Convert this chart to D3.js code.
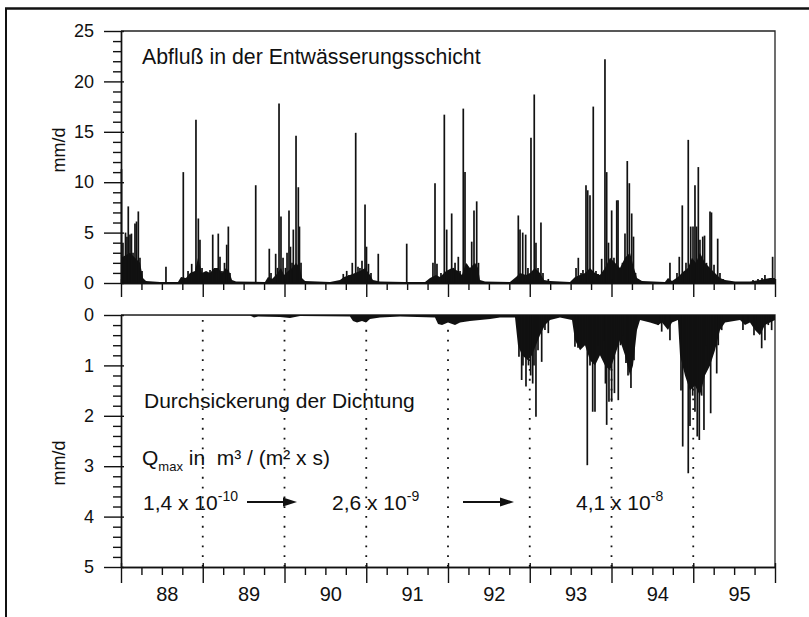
<!DOCTYPE html>
<html>
<head>
<meta charset="utf-8">
<script src="https://cdn.jsdelivr.net/npm/d3@7"></script>
<style>
  body { margin: 0; background: #fff; }
  svg text { font-family: "Liberation Sans", Arial, Helvetica, sans-serif; fill: #111; }
</style>
</head>
<body>
<svg id="chart" width="809" height="617"></svg>
<script>
// ---- data -------------------------------------------------------------
const years = [1988, 1989, 1990, 1991, 1992, 1993, 1994, 1995];
const yearLabels = ["88", "89", "90", "91", "92", "93", "94", "95"];
const runoffTicks = [0, 5, 10, 15, 20, 25];
const seepageTicks = [0, 1, 2, 3, 4, 5];
// years at which the sealing permeability was changed
const changeYears = [1989, 1990, 1991, 1992, 1993, 1994, 1995];

// runoff in the drainage layer: single daily peaks [decimal year, mm/d]
const runoffPeaks = [
  [1988.006, 11.3], [1988.024, 4.0], [1988.055, 5.0], [1988.073, 4.6], [1988.089, 7.6],
  [1988.110, 4.8], [1988.128, 4.9], [1988.147, 3.0], [1988.171, 5.9], [1988.190, 6.1],
  [1988.212, 7.1], [1988.232, 2.5], [1988.257, 1.2],
  [1988.550, 1.6], [1988.762, 11.0], [1988.820, 1.2], [1988.865, 1.9], [1988.893, 1.0],
  [1988.917, 16.2], [1988.946, 6.4], [1988.966, 4.3], [1988.991, 1.5],
  [1989.027, 1.1], [1989.052, 1.0], [1989.089, 1.3], [1989.122, 4.8], [1989.150, 1.5],
  [1989.190, 4.9], [1989.211, 2.6], [1989.235, 1.2], [1989.266, 2.0], [1989.293, 3.8],
  [1989.313, 5.6], [1989.333, 1.0],
  [1989.648, 9.7], [1989.814, 3.4], [1989.835, 1.0], [1989.892, 2.9], [1989.914, 1.5],
  [1989.933, 17.8], [1989.957, 6.6], [1989.982, 2.5],
  [1990.012, 1.5], [1990.031, 3.0], [1990.055, 7.2], [1990.073, 3.6], [1990.092, 2.0],
  [1990.108, 5.3], [1990.141, 14.6], [1990.169, 9.5], [1990.183, 5.6], [1990.202, 2.0],
  [1990.719, 0.9], [1990.761, 1.2], [1990.789, 0.8], [1990.829, 2.0], [1990.871, 14.9],
  [1990.899, 1.6], [1990.923, 1.5], [1990.948, 2.2], [1990.985, 7.8],
  [1991.003, 3.6], [1991.027, 1.9], [1991.058, 1.0], [1991.147, 2.9], [1991.495, 3.9],
  [1991.816, 2.0], [1991.841, 9.9], [1991.865, 1.9], [1991.914, 1.0], [1991.955, 16.7],
  [1991.984, 5.3],
  [1992.012, 1.2], [1992.045, 6.9], [1992.067, 1.5], [1992.086, 2.0], [1992.126, 2.6],
  [1992.147, 1.2], [1992.187, 17.3], [1992.208, 11.0], [1992.232, 1.8], [1992.257, 1.0],
  [1992.290, 4.1], [1992.318, 7.2], [1992.351, 8.1], [1992.373, 2.0],
  [1992.860, 6.7], [1992.881, 5.3], [1992.914, 5.0], [1992.950, 4.8], [1992.978, 1.5],
  [1993.015, 14.4], [1993.055, 18.7], [1993.076, 4.0], [1993.101, 1.5], [1993.137, 6.0],
  [1993.162, 1.0], [1993.227, 0.4],
  [1993.566, 1.5], [1993.594, 2.5], [1993.627, 1.0], [1993.651, 1.3], [1993.688, 9.7],
  [1993.709, 9.2], [1993.737, 8.7], [1993.777, 17.5], [1993.810, 1.2], [1993.835, 0.9],
  [1993.880, 2.4], [1993.920, 22.2], [1993.941, 11.0], [1993.963, 4.0],
  [1994.002, 7.2], [1994.030, 2.5], [1994.064, 8.2], [1994.080, 8.2], [1994.104, 1.5],
  [1994.134, 2.0], [1994.165, 4.9], [1994.193, 12.1], [1994.218, 9.9], [1994.247, 6.9],
  [1994.269, 4.6], [1994.294, 1.0],
  [1994.715, 2.0], [1994.801, 1.0], [1994.829, 2.6], [1994.866, 7.7], [1994.893, 1.2],
  [1994.911, 2.0], [1994.939, 14.2], [1994.969, 5.6], [1994.997, 5.6],
  [1995.021, 9.7], [1995.040, 5.6], [1995.062, 11.5], [1995.082, 4.3], [1995.116, 4.6],
  [1995.138, 4.7], [1995.162, 2.0], [1995.205, 7.1], [1995.223, 7.0], [1995.254, 1.8],
  [1995.299, 4.4], [1995.327, 1.0], [1995.364, 0.4],
  [1995.731, 0.3], [1995.792, 0.4], [1995.841, 0.5], [1995.877, 0.8], [1995.914, 0.3],
  [1995.971, 2.6]
];

// runoff: level of the dense day-to-day flow beneath the peaks [decimal year, mm/d]
const runoffBase = [
  [1988.000, 2.5], [1988.110, 3.0], [1988.232, 2.0], [1988.269, 0.5], [1988.306, 0.2],
  [1988.477, 0.1], [1988.697, 0.1], [1988.734, 0.6], [1988.795, 0.5], [1988.844, 1.0],
  [1988.905, 1.2], [1988.942, 2.5], [1988.991, 1.0], [1989.040, 1.2], [1989.089, 1.0],
  [1989.138, 1.5], [1989.187, 1.5], [1989.235, 1.0], [1989.284, 1.5], [1989.321, 1.2],
  [1989.358, 0.3], [1989.407, 0.15], [1989.761, 0.1], [1989.798, 0.6], [1989.847, 0.4],
  [1989.896, 0.8], [1989.957, 1.5], [1989.994, 0.8], [1990.043, 1.2], [1990.092, 1.5],
  [1990.141, 2.0], [1990.190, 1.5], [1990.214, 0.5], [1990.251, 0.2], [1990.557, 0.1],
  [1990.679, 0.3], [1990.728, 0.6], [1990.801, 0.8], [1990.862, 1.0], [1990.923, 1.2],
  [1990.985, 1.5], [1991.046, 0.8], [1991.082, 0.3], [1991.168, 0.15], [1991.474, 0.1],
  [1991.719, 0.1], [1991.780, 0.5], [1991.853, 0.8], [1991.902, 0.6], [1991.976, 1.2],
  [1992.049, 1.5], [1992.122, 1.2], [1992.171, 0.8], [1992.220, 2.0], [1992.269, 1.5],
  [1992.330, 2.0], [1992.367, 1.5], [1992.391, 0.3], [1992.453, 0.15], [1992.758, 0.1],
  [1992.832, 0.6], [1992.881, 1.0], [1992.954, 0.8], [1993.003, 1.0], [1993.064, 1.5],
  [1993.125, 1.0], [1993.174, 0.3], [1993.248, 0.2], [1993.492, 0.1], [1993.554, 0.6],
  [1993.615, 0.8], [1993.676, 1.0], [1993.737, 1.5], [1993.798, 1.0], [1993.859, 0.8],
  [1993.920, 1.5], [1993.982, 2.5], [1994.043, 2.0], [1994.104, 1.5], [1994.165, 2.5],
  [1994.226, 3.0], [1994.275, 1.5], [1994.312, 0.5], [1994.373, 0.2], [1994.654, 0.1],
  [1994.691, 0.5], [1994.740, 0.2], [1994.813, 0.6], [1994.862, 1.0], [1994.935, 1.5],
  [1994.984, 2.5], [1995.033, 2.0], [1995.082, 3.0], [1995.143, 2.0], [1995.205, 1.5],
  [1995.266, 1.0], [1995.327, 0.5], [1995.389, 0.3], [1995.511, 0.15], [1995.694, 0.15],
  [1995.816, 0.3], [1995.939, 0.5], [1996.000, 0.5]
];

// seepage through the sealing: single daily peaks [decimal year, mm/d]
const seepagePeaks = [
  [1992.868, 0.83], [1992.901, 1.29], [1992.917, 1.0], [1992.954, 1.42], [1992.985, 1.0],
  [1993.011, 1.2], [1993.036, 1.36], [1993.052, 1.0], [1993.076, 2.02], [1993.101, 0.7],
  [1993.146, 0.93], [1993.186, 0.3], [1993.227, 0.36],
  [1993.553, 0.63], [1993.590, 0.65], [1993.627, 0.6], [1993.663, 0.5], [1993.704, 2.98],
  [1993.737, 1.0], [1993.770, 1.92], [1993.798, 1.92], [1993.835, 0.6], [1993.880, 0.76],
  [1993.908, 0.5], [1993.926, 1.36], [1993.941, 2.18], [1993.969, 1.72],
  [1994.002, 1.72], [1994.036, 1.55], [1994.083, 1.69], [1994.110, 0.6], [1994.141, 0.4],
  [1994.177, 0.95], [1994.202, 1.2], [1994.238, 1.45], [1994.275, 0.9], [1994.299, 0.3],
  [1994.572, 0.2], [1994.614, 0.33], [1994.654, 0.2], [1994.715, 0.5],
  [1994.850, 1.5], [1994.871, 2.61], [1994.899, 1.1], [1994.939, 3.14], [1994.960, 2.2],
  [1994.993, 1.6], [1995.021, 1.92], [1995.049, 2.41], [1995.074, 2.48], [1995.103, 1.6],
  [1995.131, 2.28], [1995.164, 0.6], [1995.184, 0.9], [1995.213, 1.95], [1995.245, 0.6],
  [1995.287, 1.16], [1995.306, 0.6], [1995.348, 0.3],
  [1995.608, 0.3], [1995.670, 0.15], [1995.743, 0.4], [1995.786, 0.25], [1995.837, 0.66],
  [1995.877, 0.5], [1995.918, 0.2], [1995.959, 0.3]
];

// seepage: level of the dense day-to-day flow [decimal year, mm/d]
const seepageBase = [
  [1988.000, 0.0], [1989.578, 0.01], [1989.627, 0.05], [1989.676, 0.03], [1989.945, 0.04],
  [1990.067, 0.06], [1990.190, 0.02], [1990.801, 0.03], [1990.838, 0.12], [1990.887, 0.15],
  [1990.948, 0.12], [1990.997, 0.15], [1991.046, 0.08], [1991.168, 0.05], [1991.413, 0.03],
  [1991.841, 0.05], [1991.878, 0.18], [1991.927, 0.2], [1992.000, 0.15], [1992.086, 0.2],
  [1992.147, 0.15], [1992.269, 0.12], [1992.391, 0.1], [1992.514, 0.08], [1992.636, 0.05],
  [1992.820, 0.05], [1992.856, 0.6], [1992.905, 0.8], [1992.978, 0.9], [1993.027, 0.8],
  [1993.076, 0.6], [1993.125, 0.4], [1993.187, 0.2], [1993.248, 0.1], [1993.370, 0.05],
  [1993.517, 0.1], [1993.554, 0.5], [1993.615, 0.7], [1993.676, 0.6], [1993.737, 0.9],
  [1993.798, 1.0], [1993.859, 0.8], [1993.920, 1.0], [1993.982, 1.1], [1994.043, 0.8],
  [1994.104, 0.5], [1994.165, 0.8], [1994.226, 1.2], [1994.263, 1.0], [1994.312, 0.3],
  [1994.349, 0.1], [1994.471, 0.15], [1994.569, 0.2], [1994.618, 0.15], [1994.691, 0.3],
  [1994.740, 0.15], [1994.813, 0.1], [1994.838, 0.8], [1994.899, 1.2], [1994.960, 1.5],
  [1995.021, 1.4], [1995.082, 1.6], [1995.143, 1.2], [1995.205, 1.0], [1995.266, 0.7],
  [1995.327, 0.3], [1995.389, 0.15], [1995.572, 0.1], [1995.633, 0.2], [1995.694, 0.15],
  [1995.755, 0.3], [1995.816, 0.4], [1995.877, 0.2], [1995.939, 0.15], [1996.000, 0.1]
];

// maximum seepage rate of the sealing in each period
const qmaxMantissa = ["1,4 x 10", "2,6 x 10", "4,1 x 10"];
const qmaxExponent = ["-10", "-9", "-8"];

// ---- layout ------------------------------------------------------------
const svg = d3.select("#chart");
const ink = "#111";

const x = d3.scaleLinear().domain([1988, 1996]).range([121, 775]);
const yTop = d3.scaleLinear().domain([0, 25]).range([283, 31]);
const yBot = d3.scaleLinear().domain([0, 5]).range([315, 567]);

// figure frame
svg.append("line").attr("x1", 5).attr("x2", 809).attr("y1", 8.5).attr("y2", 8.5)
  .attr("stroke", ink).attr("stroke-width", 2.6);
svg.append("line").attr("x1", 6).attr("x2", 6).attr("y1", 8).attr("y2", 617)
  .attr("stroke", ink).attr("stroke-width", 2);

function panelFrame(yScale) {
  const [y0, y1] = yScale.range();
  const top = Math.min(y0, y1), bottom = Math.max(y0, y1);
  svg.append("path")
    .attr("d", `M${x.range()[0]},${top}H${x.range()[1]}V${bottom}`)
    .attr("fill", "none").attr("stroke", "#222").attr("stroke-width", 1.3);
}
panelFrame(yTop);
panelFrame(yBot);

// ---- marks -------------------------------------------------------------
function drawSeries(yScale, base, peaks) {
  const g = svg.append("g");
  g.append("path")
    .datum(base)
    .attr("fill", ink)
    .attr("d", d3.area().x(d => x(d[0])).y0(yScale(0)).y1(d => yScale(d[1])));
  g.selectAll("line.peak")
    .data(peaks)
    .join("line")
    .attr("class", "peak")
    .attr("x1", d => x(d[0])).attr("x2", d => x(d[0]))
    .attr("y1", yScale(0)).attr("y2", d => yScale(d[1]))
    .attr("stroke", ink).attr("stroke-width", 1.7);
}

// dotted markers of the sealing changes (seepage panel)
svg.append("g").selectAll("line")
  .data(changeYears)
  .join("line")
  .attr("x1", d => x(d)).attr("x2", d => x(d))
  .attr("y1", yBot(0.1)).attr("y2", yBot(5))
  .attr("stroke", ink).attr("stroke-width", 1.8)
  .attr("stroke-dasharray", "1.8,8");

drawSeries(yTop, runoffBase, runoffPeaks);
drawSeries(yBot, seepageBase, seepagePeaks);

// ---- axes --------------------------------------------------------------
function styleAxis(g, fontSize) {
  g.select(".domain").attr("stroke", ink).attr("stroke-width", 1.4);
  g.selectAll(".tick line").attr("stroke", ink).attr("stroke-width", 1.4);
  g.selectAll("text").attr("font-size", fontSize).attr("fill", ink)
    .attr("font-family", '"Liberation Sans", Arial, sans-serif');
}

function leftAxis(yScale, major, minorStep) {
  const [lo, hi] = yScale.domain();
  const minor = d3.range(lo, hi + 1e-9, minorStep).filter(v => !major.some(m => Math.abs(m - v) < 1e-9));
  svg.append("g").attr("transform", "translate(121,0)")
    .call(d3.axisLeft(yScale).tickValues(minor).tickSize(8).tickSizeOuter(0).tickFormat(""))
    .call(g => styleAxis(g, 18));
  svg.append("g").attr("transform", "translate(121,0)")
    .call(d3.axisLeft(yScale).tickValues(major).tickSize(17).tickPadding(10).tickSizeOuter(0).tickFormat(d3.format("d")))
    .call(g => styleAxis(g, 18))
    .call(g => g.selectAll(".tick line").attr("x1", 3));
}
leftAxis(yTop, runoffTicks, 1);
leftAxis(yBot, seepageTicks, 0.2);

function timeAxis(yPos, majorLen, minorLen) {
  const quarters = d3.range(1988, 1996, 0.25).filter(v => v % 1 !== 0);
  svg.append("g").attr("transform", `translate(0,${yPos})`)
    .call(d3.axisBottom(x).tickValues(quarters).tickSize(minorLen).tickSizeOuter(0).tickFormat(""))
    .call(g => styleAxis(g, 18));
  svg.append("g").attr("transform", `translate(0,${yPos})`)
    .call(d3.axisBottom(x).tickValues(years.concat([1996])).tickSize(majorLen).tickSizeOuter(0).tickFormat(""))
    .call(g => styleAxis(g, 18))
    .call(g => g.selectAll(".tick line").attr("y1", -4));
}
timeAxis(283, 14, 7);
timeAxis(567, 16, 8);

// year labels centred in each year
svg.append("g").attr("transform", `translate(5,567)`)
  .call(d3.axisBottom(x).tickValues(years.map(yv => yv + 0.5)).tickSize(0).tickPadding(20)
    .tickFormat((d, i) => yearLabels[i]))
  .call(g => styleAxis(g, 20))
  .call(g => g.select(".domain").remove());

// axis titles
[[yTop, 150], [yBot, 463]].forEach(([s, cy]) => {
  svg.append("text")
    .attr("transform", `translate(65,${cy}) rotate(-90)`)
    .attr("text-anchor", "middle")
    .attr("font-size", 18)
    .text("mm/d");
});

// ---- annotations -------------------------------------------------------
svg.append("text").attr("x", 142).attr("y", 64).attr("font-size", 21.3)
  .text("Abfluß in der Entwässerungsschicht");
svg.append("text").attr("x", 144).attr("y", 408).attr("font-size", 21)
  .text("Durchsickerung der Dichtung");

const qLabel = svg.append("text").attr("x", 142).attr("y", 465).attr("font-size", 21)
  .style("white-space", "pre");
qLabel.append("tspan").text("Q");
qLabel.append("tspan").attr("font-size", 13).attr("dy", 6).text("max");
qLabel.append("tspan").attr("dy", -6).text(" in  m³ / (m² x s)");

const qX = [143, 332, 576];
qmaxMantissa.forEach((m, i) => {
  const t = svg.append("text").attr("x", qX[i]).attr("y", 510).attr("font-size", 21);
  t.append("tspan").text(m);
  t.append("tspan").attr("font-size", 14).attr("dy", -9).text(qmaxExponent[i]);
});

// arrows between the periods
[[247, 297], [463, 514]].forEach(([a, b]) => {
  svg.append("line").attr("x1", a).attr("x2", b - 10).attr("y1", 502).attr("y2", 502)
    .attr("stroke", ink).attr("stroke-width", 2);
  svg.append("path").attr("d", `M${b - 14},497.5L${b},502L${b - 14},506.5Z`).attr("fill", ink);
});
</script>
</body>
</html>
